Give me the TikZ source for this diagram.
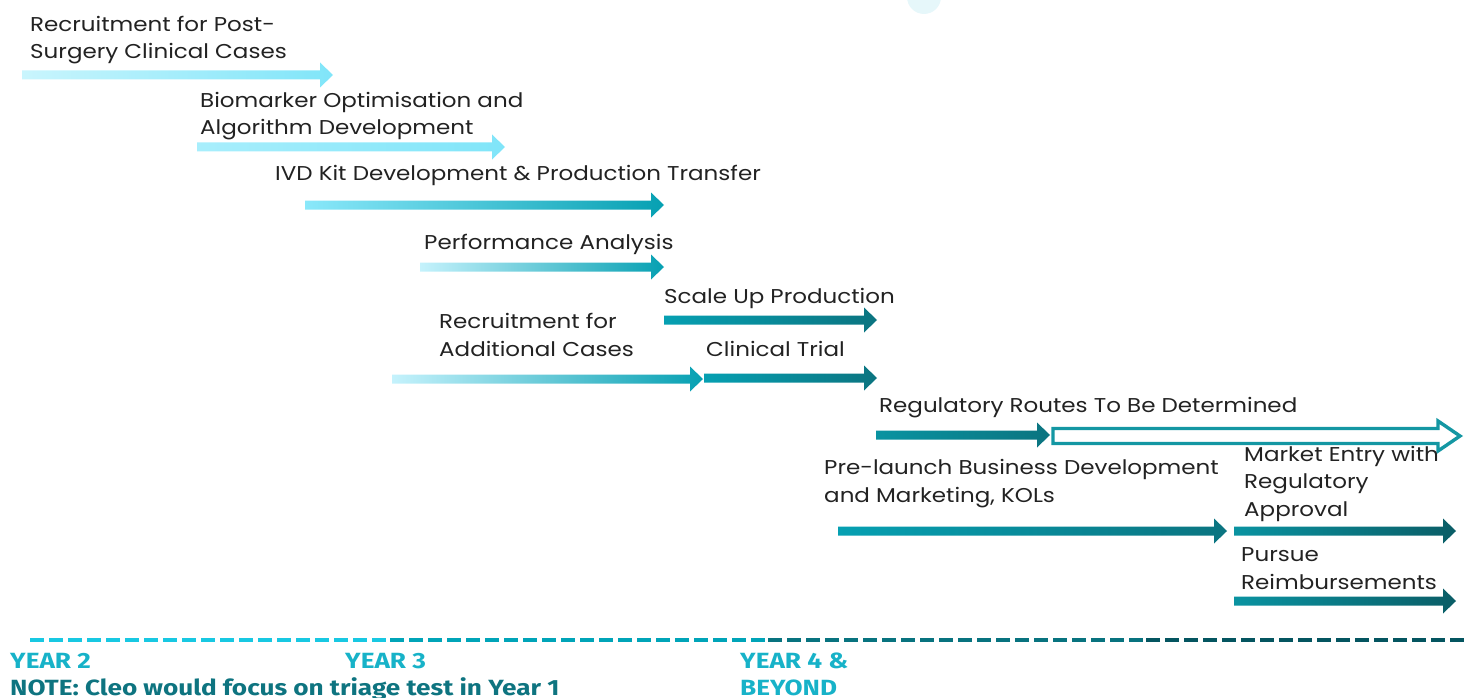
\documentclass[tikz,border=0pt]{standalone}
\usepackage{fontspec}
\setmainfont{Poppins}[FakeStretch=1.15]
\newfontfamily\yearfont{Fira Sans}[FakeStretch=1.19]
\definecolor{txt}{HTML}{222222}
\definecolor{yearc}{HTML}{17B2C8}
\definecolor{notec}{HTML}{0E7480}
\definecolor{dA}{HTML}{18C8E2}
\definecolor{dB}{HTML}{00A4B8}
\definecolor{dC}{HTML}{08737F}
\definecolor{dD}{HTML}{045560}
\definecolor{hollow}{HTML}{1497A3}
\definecolor{blob}{HTML}{E6F7FA}
% gradient colours
\definecolor{pale}{HTML}{C9F5FD}
\definecolor{pale2}{HTML}{A8EEFC}
\definecolor{pale3}{HTML}{C5F2FC}
\definecolor{cyA}{HTML}{86E6FA}
\definecolor{cyB}{HTML}{80E5F9}
\definecolor{cyC}{HTML}{8AE8FA}
\definecolor{midT}{HTML}{5DD4EA}
\definecolor{tealA}{HTML}{06A0B2}
\definecolor{tealB}{HTML}{00A6B8}
\definecolor{tealC}{HTML}{0A93A1}
\definecolor{dkA}{HTML}{0B7480}
\definecolor{dkB}{HTML}{0A5D66}
\newcommand\tlarrow[6]{\shade[left color=#4,middle color=#5,right color=#6]
  (#1,#3-4.5) -- (#2-13,#3-4.5) -- (#2-13,#3-12.5) -- (#2,#3) -- (#2-13,#3+12.5) -- (#2-13,#3+4.5) -- (#1,#3+4.5) -- cycle;}
\tikzset{
  lbl/.style={anchor=base west, inner sep=0pt, align=left, text=txt, font=\fontsize{20}{27.5}\selectfont},
  yr/.style={anchor=base west, inner sep=0pt, align=left, text=yearc, font=\yearfont\bfseries\fontsize{22}{27}\selectfont},
  dashseg/.style={line width=4pt, dash pattern=on 14pt off 5pt}
}
\begin{document}
\begin{tikzpicture}[x=1pt,y=-1pt]
\useasboundingbox (0,0) rectangle (1464,698);
\fill[blob] (924,-3) circle (17);
% arrows
\tlarrow{22}{333}{75}{pale}{cyA}{cyB}
\tlarrow{197}{505}{147}{pale2}{cyA}{cyB}
\tlarrow{305}{664}{205}{cyC}{cyA}{tealA}
\tlarrow{420}{664}{267}{pale3}{midT}{tealA}
\tlarrow{664}{877}{320}{tealA}{tealB}{dkA}
\tlarrow{392}{703}{379}{pale3}{midT}{tealA}
\tlarrow{704}{877}{378}{tealA}{tealB}{dkA}
\tlarrow{876}{1050}{435}{tealC}{tealB}{dkA}
\tlarrow{838}{1227}{531}{tealA}{tealB}{dkA}
\tlarrow{1234}{1456}{531}{tealC}{tealB}{dkB}
\tlarrow{1234}{1456}{601}{tealC}{tealB}{dkB}
% hollow arrow
\draw[line width=3.4pt, draw=hollow, fill=white, line join=miter]
  (1053,428.5) -- (1438,428.5) -- (1438,421) -- (1460,436) -- (1438,451) -- (1438,443.5) -- (1053,443.5) -- cycle;
% labels
\node[lbl] (t1) at (30,59) {Recruitment for Post-\\Surgery Clinical Cases};
\node[lbl] (t2) at (200,135) {Biomarker Optimisation and\\Algorithm Development};
\node[lbl] (t3) at (275,180) {IVD Kit Development \& Production Transfer};
\node[lbl] (t4) at (424,249) {Performance Analysis};
\node[lbl] (t5) at (664,303) {Scale Up Production};
\node[lbl] (t6) at (439,356) {Recruitment for\\Additional Cases};
\node[lbl] (t7) at (706,356) {Clinical Trial};
\node[lbl] (t8) at (879,412) {Regulatory Routes To Be Determined};
\node[lbl] (t9) at (824,502) {Pre-launch Business Development\\and Marketing, KOLs};
\node[lbl] (t10) at (1244,516) {Market Entry with\\Regulatory\\Approval};
\node[lbl] (t11) at (1241,589) {Pursue\\Reimbursements};
% timeline
\draw[dashseg, dA] (30,640) -- (390,640);
\draw[dashseg, dB] (390,640) -- (768,640);
\draw[dashseg, dC] (768,640) -- (1146,640);
\draw[dashseg, dD] (1146,640) -- (1464,640);
\node[yr] (y2) at (10,668) {YEAR 2};
\node[yr] (y3) at (345,668) {YEAR 3};
\node[yr] (y4) at (740,695) {YEAR 4 \&\\BEYOND};
\node[yr, text=notec] (note) at (10,695) {NOTE: Cleo would focus on triage test in Year 1};
\end{tikzpicture}
\end{document}
